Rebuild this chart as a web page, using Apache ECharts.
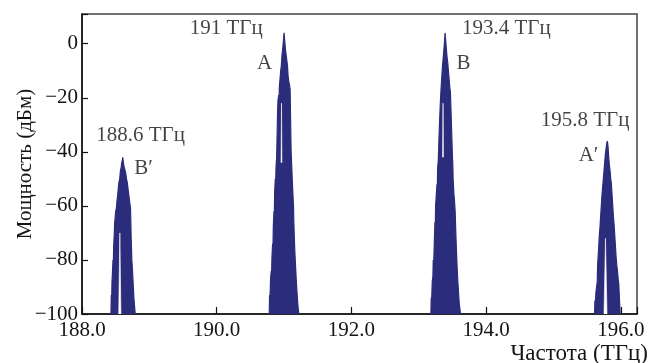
<!DOCTYPE html>
<html>
<head>
<meta charset="utf-8">
<script src="https://cdn.jsdelivr.net/npm/echarts@6/dist/echarts.min.js"></script>
<style>
html,body{margin:0;padding:0;background:#fff;}
#chart{width:649px;height:363px;}
</style>
</head>
<body>
<div id="chart"></div>
<script>
// Peak spectra: [frequency THz, power dBm]
const peakBprime = [[188.43,-100],[188.435,-93],[188.44,-96],[188.445,-88],[188.45,-86],[188.46,-80],[188.465,-82],[188.47,-75],[188.48,-70],[188.485,-66],[188.49,-65],[188.50,-62],[188.51,-61],[188.52,-58],[188.53,-56],[188.54,-53],[188.55,-51],[188.56,-50],[188.57,-47],[188.58,-46],[188.59,-44],[188.60,-43],[188.605,-42],[188.61,-43],[188.62,-45],[188.63,-46],[188.64,-47],[188.65,-48],[188.66,-50],[188.67,-51],[188.68,-53],[188.69,-55],[188.70,-57],[188.71,-59],[188.72,-61],[188.725,-66],[188.73,-72],[188.735,-76],[188.74,-80],[188.75,-84],[188.76,-89],[188.77,-94],[188.78,-97],[188.79,-100]];
const peakA = [[190.78,-100],[190.785,-93],[190.79,-95],[190.80,-87],[190.81,-84],[190.815,-86],[190.82,-79],[190.83,-74],[190.835,-76],[190.84,-68],[190.85,-62],[190.855,-64],[190.86,-55],[190.87,-50],[190.875,-52],[190.88,-46],[190.89,-42],[190.895,-36],[190.90,-30],[190.905,-24],[190.91,-21],[190.92,-19],[190.925,-21],[190.93,-16],[190.94,-13],[190.95,-10],[190.96,-8],[190.97,-4],[190.98,-2],[190.99,1],[191.0,4],[191.01,1],[191.02,-2],[191.03,-4],[191.04,-6],[191.05,-8],[191.06,-12],[191.07,-14],[191.08,-15],[191.09,-17],[191.095,-25],[191.10,-33],[191.105,-40],[191.11,-43],[191.12,-49],[191.13,-55],[191.14,-60],[191.145,-66],[191.15,-70],[191.16,-77],[191.17,-82],[191.18,-87],[191.19,-91],[191.20,-95],[191.21,-98],[191.22,-100]];
const peakB = [[193.18,-100],[193.185,-94],[193.19,-96],[193.20,-88],[193.21,-86],[193.215,-80],[193.22,-83],[193.23,-74],[193.24,-66],[193.245,-68],[193.25,-60],[193.26,-56],[193.27,-52],[193.275,-54],[193.28,-46],[193.29,-43],[193.30,-35],[193.31,-28],[193.32,-22],[193.33,-17],[193.34,-13],[193.35,-9],[193.36,-6],[193.37,-3],[193.38,0],[193.39,4],[193.40,1],[193.41,-2],[193.42,-5],[193.43,-7],[193.44,-10],[193.45,-13],[193.46,-16],[193.47,-18],[193.48,-26],[193.49,-34],[193.50,-42],[193.505,-44],[193.51,-50],[193.52,-55],[193.53,-58],[193.54,-62],[193.55,-70],[193.56,-77],[193.57,-83],[193.58,-88],[193.59,-92],[193.60,-96],[193.61,-98],[193.62,-100]];
const peakAprime = [[195.61,-100],[195.615,-95],[195.62,-97],[195.63,-92],[195.64,-90],[195.65,-88],[195.655,-82],[195.66,-80],[195.67,-76],[195.68,-71],[195.69,-68],[195.70,-64],[195.71,-60],[195.72,-56],[195.73,-53],[195.74,-50],[195.75,-47],[195.76,-44],[195.77,-41],[195.78,-39],[195.79,-37],[195.80,-36],[195.81,-38],[195.82,-42],[195.83,-45],[195.84,-47],[195.85,-50],[195.86,-52],[195.87,-56],[195.88,-60],[195.89,-64],[195.90,-67],[195.91,-71],[195.92,-75],[195.93,-79],[195.94,-82],[195.95,-84],[195.96,-87],[195.97,-89],[195.98,-95],[195.985,-97],[195.99,-100]];
// Noise gaps (white slivers inside the peaks)
const gaps = [
  [[188.545,-100],[188.562,-70],[188.578,-100]],
  [[195.75,-100],[195.772,-72],[195.795,-100]],
  [[190.955,-44],[190.962,-22],[190.968,-44]],
  [[193.353,-42],[193.36,-22],[193.366,-42]]
];
// Annotations: [frequency, power, text]
const annotations = [
  [190.14, 5.6, '191 ТГц'],
  [190.71, -7.4, 'A'],
  [194.30, 5.6, '193.4 ТГц'],
  [193.665, -7.4, 'B'],
  [188.87, -33.9, '188.6 ТГц'],
  [188.915, -46, 'B′'],
  [195.47, -28.5, '195.8 ТГц'],
  [195.52, -41.5, 'A′']
];
const xTicks = [188, 190, 192, 194, 196];
const yTicks = [-100, -80, -60, -40, -20, 0];

const FONT = 'Liberation Serif';
const NAVY = '#2c2c7c';
const TEXT = '#141414';
const chart = echarts.init(document.getElementById('chart'), null, {renderer: 'canvas'});

function peakSeries(data) {
  return {
    type: 'line', data: data, showSymbol: false, symbol: 'none',
    lineStyle: {color: NAVY, width: 1.2},
    areaStyle: {color: NAVY, opacity: 1, origin: 'start'},
    z: 2, silent: true
  };
}
const series = [peakSeries(peakBprime), peakSeries(peakA), peakSeries(peakB), peakSeries(peakAprime)];
gaps.forEach(g => series.push({
  type: 'line', data: g, showSymbol: false, symbol: 'none',
  lineStyle: {color: '#ffffff', width: 0.6},
  areaStyle: {color: '#ffffff', opacity: 1, origin: g[0][1]},
  z: 3, silent: true
}));
series.push({
  type: 'scatter', symbolSize: 0, z: 5, silent: true,
  data: annotations.map(a => ({value: [a[0], a[1]], name: a[2]})),
  label: {show: true, position: 'inside', formatter: p => p.name,
    color: TEXT, fontFamily: FONT, fontSize: 21}
});

chart.setOption({
  animation: false,
  grid: {left: 82, right: 12, top: 14, bottom: 49, show: true, borderColor: '#444', borderWidth: 1.5,
    outerBoundsMode: 'none', containLabel: false},
  graphic: [{
    type: 'text', right: 1, top: 342, silent: true,
    style: {text: 'Частота (ТГц)', fontFamily: FONT, fontSize: 23, fill: TEXT}
  }],
  xAxis: {
    type: 'value', min: 188, max: 196.24, interval: 2,
    axisLine: {show: true, onZero: false, lineStyle: {color: '#111', width: 1.5}},
    axisTick: {show: true, inside: true, length: 7, lineStyle: {color: '#111', width: 1.2}},
    axisLabel: {margin: 6, fontFamily: FONT, fontSize: 21, color: TEXT,
      formatter: v => xTicks.some(t => Math.abs(t - v) < 1e-6) ? v.toFixed(1) : ''},
    splitLine: {show: false}
  },
  yAxis: {
    type: 'value', min: -100, max: 11, interval: 20,
    name: 'Мощность (дБм)', nameLocation: 'middle', nameGap: 46, nameRotate: 90,
    nameMoveOverlap: false,
    nameTextStyle: {fontFamily: FONT, fontSize: 21, color: TEXT},
    axisLine: {show: true, onZero: false, lineStyle: {color: '#111', width: 1.5}},
    axisTick: {show: true, inside: true, length: 6, lineStyle: {color: '#111', width: 1.2}},
    axisLabel: {margin: 4, fontFamily: FONT, fontSize: 21, color: TEXT,
      formatter: v => yTicks.some(t => Math.abs(t - v) < 1e-6) ? (v < 0 ? '−' + Math.abs(v) : String(v)) : ''},
    splitLine: {show: false}
  },
  series: series
});
</script>
</body>
</html>
